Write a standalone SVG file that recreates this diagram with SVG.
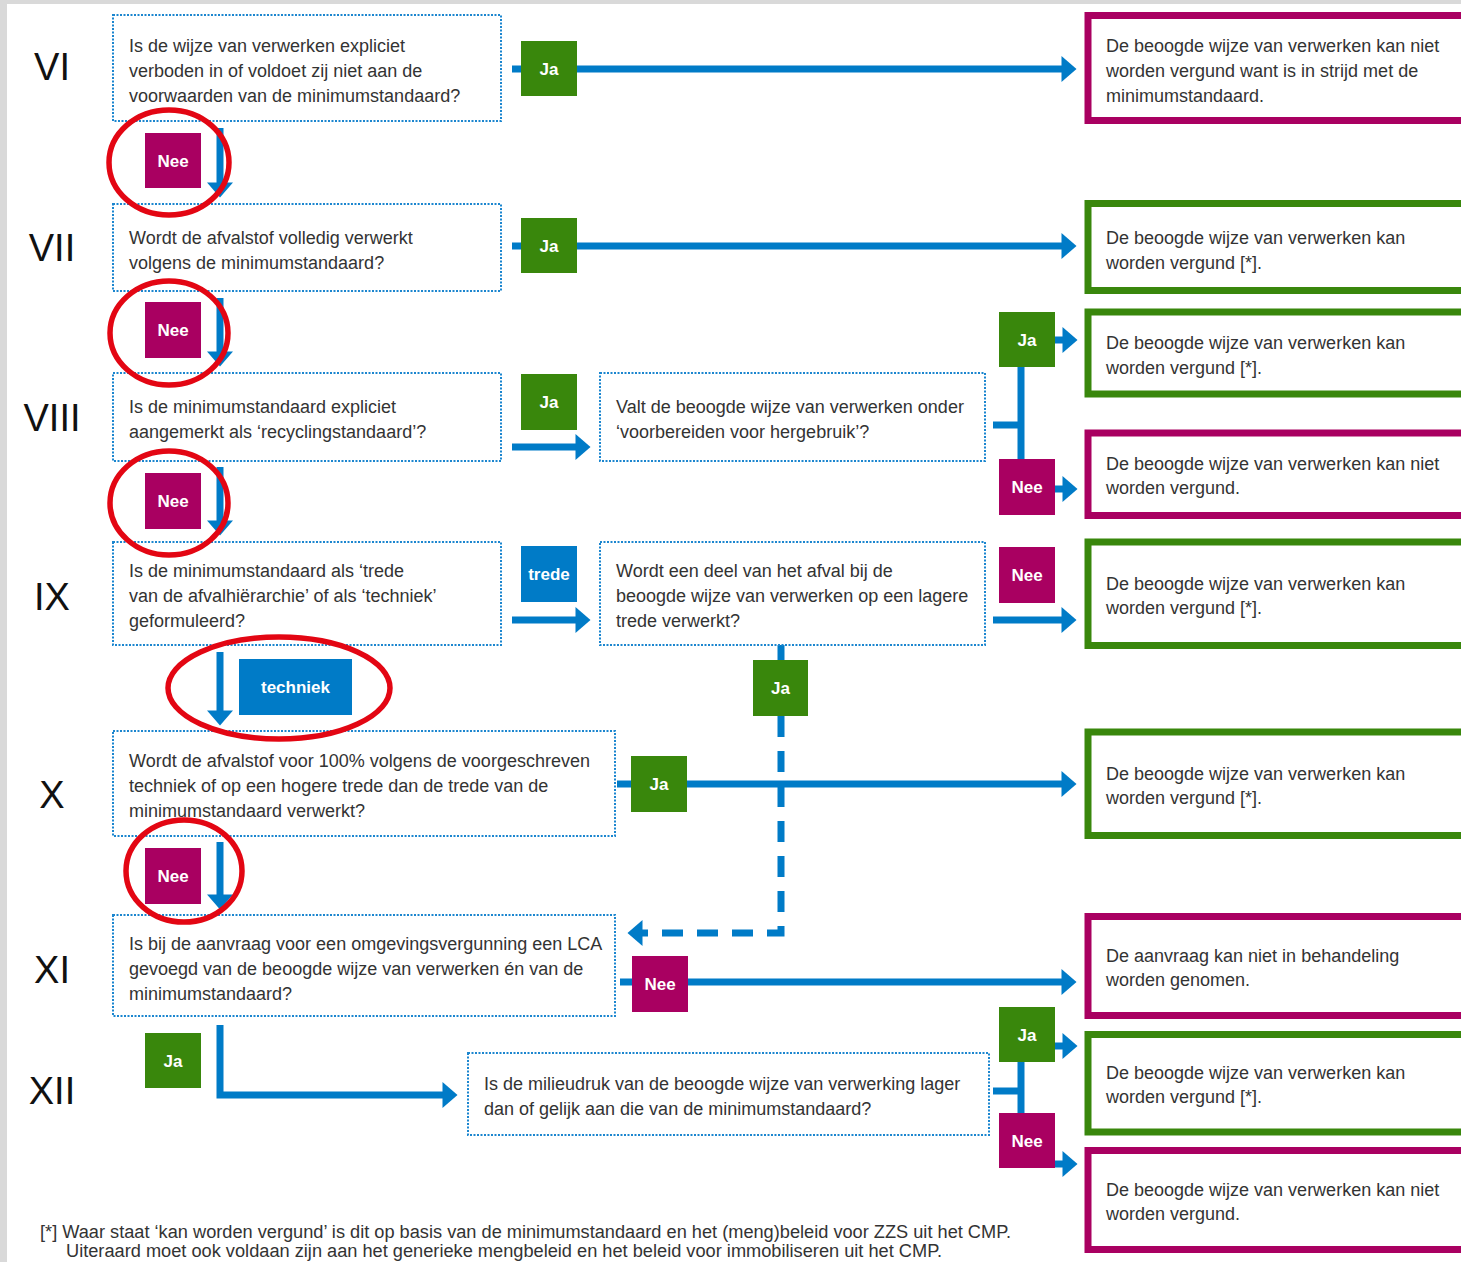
<svg xmlns="http://www.w3.org/2000/svg" width="1461" height="1262" viewBox="0 0 1461 1262">
<style>
.q{fill:#fff;stroke:#1b86cf;stroke-width:2;stroke-dasharray:2 1.5}
.t{font-family:"Liberation Sans",Arial,sans-serif;font-size:18px;fill:#333}
.num{font-family:"Liberation Sans",Arial,sans-serif;font-size:38px;fill:#111;text-anchor:middle}
.ok{fill:#fff;stroke:#39870c;stroke-width:7}
.no{fill:#fff;stroke:#a90061;stroke-width:7}
.ja{fill:#39870c}
.nee{fill:#a90061}
.blu{fill:#007bc7}
.lt{font-family:"Liberation Sans",Arial,sans-serif;font-weight:bold;font-size:17px;fill:#fff;text-anchor:middle}
.c{fill:none;stroke:#007bc7;stroke-width:7}
.d{stroke-dasharray:21 14}
.ring{fill:none;stroke:#e30613;stroke-width:5.5}
.ft{font-family:"Liberation Sans",Arial,sans-serif;font-size:18px;fill:#333}
</style>
<defs>
<marker id="ah" markerUnits="userSpaceOnUse" markerWidth="16" markerHeight="26" refX="0.5" refY="13" orient="auto" overflow="visible">
<path d="M0,0 L15,13 L0,26 z" fill="#007bc7"/>
</marker>
</defs>
<rect x="0" y="0" width="1461" height="1262" fill="#d9d9d9"/>
<rect x="7" y="4" width="1454" height="1258" fill="#fff"/>

<g id="numerals">
<text class="num" x="52" y="80">VI</text>
<text class="num" x="52" y="261">VII</text>
<text class="num" x="52" y="431">VIII</text>
<text class="num" x="52" y="610">IX</text>
<text class="num" x="52" y="808">X</text>
<text class="num" x="52" y="983">XI</text>
<text class="num" x="52" y="1104">XII</text>
</g>

<g id="connectors">
<path class="c" d="M512,69 H1062" marker-end="url(#ah)"/>
<path class="c" d="M512,246 H1062" marker-end="url(#ah)"/>
<path class="c" d="M512,447 H576" marker-end="url(#ah)"/>
<path class="c" d="M993,425 H1021"/>
<path class="c" d="M1021,340 V489"/>
<path class="c" d="M1055,340 H1063" marker-end="url(#ah)"/>
<path class="c" d="M1055,489 H1063" marker-end="url(#ah)"/>
<path class="c" d="M512,620 H576" marker-end="url(#ah)"/>
<path class="c" d="M993,620 H1062" marker-end="url(#ah)"/>
<path class="c" d="M781,645 V715"/>
<path class="c d" d="M781,716 V933 H642" marker-end="url(#ah)"/>
<path class="c" d="M617,784 H1062" marker-end="url(#ah)"/>
<path class="c" d="M620,982 H1062" marker-end="url(#ah)"/>
<path class="c" d="M220,1025 V1095 H443" marker-end="url(#ah)"/>
<path class="c" d="M993,1091 H1021"/>
<path class="c" d="M1021,1046 V1164"/>
<path class="c" d="M1055,1046 H1063" marker-end="url(#ah)"/>
<path class="c" d="M1055,1164 H1063" marker-end="url(#ah)"/>
<path class="c" d="M220,128 V183" marker-end="url(#ah)"/>
<path class="c" d="M220,298 V352" marker-end="url(#ah)"/>
<path class="c" d="M220,467 V521" marker-end="url(#ah)"/>
<path class="c" d="M220,652 V711" marker-end="url(#ah)"/>
<path class="c" d="M220,842 V895" marker-end="url(#ah)"/>
</g>

<g id="q6"><rect class="q" x="113" y="15" width="388" height="106"/>
<text class="t" x="129" y="52">Is de wijze van verwerken expliciet</text>
<text class="t" x="129" y="77">verboden in of voldoet zij niet aan de</text>
<text class="t" x="129" y="102">voorwaarden van de minimumstandaard?</text></g>
<g id="q7"><rect class="q" x="113" y="204" width="388" height="87"/>
<text class="t" x="129" y="244">Wordt de afvalstof volledig verwerkt</text>
<text class="t" x="129" y="269">volgens de minimumstandaard?</text></g>
<g id="q8"><rect class="q" x="113" y="373" width="388" height="88"/>
<text class="t" x="129" y="413">Is de minimumstandaard expliciet</text>
<text class="t" x="129" y="438">aangemerkt als ‘recyclingstandaard’?</text></g>
<g id="q8b"><rect class="q" x="600" y="373" width="385" height="88"/>
<text class="t" x="616" y="413">Valt de beoogde wijze van verwerken onder</text>
<text class="t" x="616" y="438">‘voorbereiden voor hergebruik’?</text></g>
<g id="q9"><rect class="q" x="113" y="542" width="388" height="103"/>
<text class="t" x="129" y="577">Is de minimumstandaard als ‘trede</text>
<text class="t" x="129" y="602">van de afvalhiërarchie’ of als ‘techniek’</text>
<text class="t" x="129" y="627">geformuleerd?</text></g>
<g id="q9b"><rect class="q" x="600" y="542" width="385" height="103"/>
<text class="t" x="616" y="577">Wordt een deel van het afval bij de</text>
<text class="t" x="616" y="602">beoogde wijze van verwerken op een lagere</text>
<text class="t" x="616" y="627">trede verwerkt?</text></g>
<g id="q10"><rect class="q" x="113" y="731" width="502" height="105"/>
<text class="t" x="129" y="767">Wordt de afvalstof voor 100% volgens de voorgeschreven</text>
<text class="t" x="129" y="792">techniek of op een hogere trede dan de trede van de</text>
<text class="t" x="129" y="817">minimumstandaard verwerkt?</text></g>
<g id="q11"><rect class="q" x="113" y="915" width="502" height="101"/>
<text class="t" x="129" y="950">Is bij de aanvraag voor een omgevingsvergunning een LCA</text>
<text class="t" x="129" y="975">gevoegd van de beoogde wijze van verwerken én van de</text>
<text class="t" x="129" y="1000">minimumstandaard?</text></g>
<g id="q12"><rect class="q" x="468" y="1053" width="521" height="82"/>
<text class="t" x="484" y="1090">Is de milieudruk van de beoogde wijze van verwerking lager</text>
<text class="t" x="484" y="1115">dan of gelijk aan die van de minimumstandaard?</text></g>

<g id="o1"><rect class="no" x="1088" y="15.5" width="500" height="105"/>
<text class="t" x="1106" y="52">De beoogde wijze van verwerken kan niet</text>
<text class="t" x="1106" y="77">worden vergund want is in strijd met de</text>
<text class="t" x="1106" y="102">minimumstandaard.</text></g>
<g id="o2"><rect class="ok" x="1088" y="203.5" width="500" height="87"/>
<text class="t" x="1106" y="244">De beoogde wijze van verwerken kan</text>
<text class="t" x="1106" y="269">worden vergund [*].</text></g>
<g id="o3"><rect class="ok" x="1088" y="312" width="500" height="82"/>
<text class="t" x="1106" y="349">De beoogde wijze van verwerken kan</text>
<text class="t" x="1106" y="374">worden vergund [*].</text></g>
<g id="o4"><rect class="no" x="1088" y="433" width="500" height="82.5"/>
<text class="t" x="1106" y="470">De beoogde wijze van verwerken kan niet</text>
<text class="t" x="1106" y="494">worden vergund.</text></g>
<g id="o5"><rect class="ok" x="1088" y="542" width="500" height="103.5"/>
<text class="t" x="1106" y="590">De beoogde wijze van verwerken kan</text>
<text class="t" x="1106" y="614">worden vergund [*].</text></g>
<g id="o6"><rect class="ok" x="1088" y="732" width="500" height="103.5"/>
<text class="t" x="1106" y="780">De beoogde wijze van verwerken kan</text>
<text class="t" x="1106" y="804">worden vergund [*].</text></g>
<g id="o7"><rect class="no" x="1088" y="916.5" width="500" height="99"/>
<text class="t" x="1106" y="962">De aanvraag kan niet in behandeling</text>
<text class="t" x="1106" y="986">worden genomen.</text></g>
<g id="o8"><rect class="ok" x="1088" y="1034.5" width="500" height="97.5"/>
<text class="t" x="1106" y="1079">De beoogde wijze van verwerken kan</text>
<text class="t" x="1106" y="1103">worden vergund [*].</text></g>
<g id="o9"><rect class="no" x="1088" y="1150.5" width="500" height="99"/>
<text class="t" x="1106" y="1196">De beoogde wijze van verwerken kan niet</text>
<text class="t" x="1106" y="1220">worden vergund.</text></g>

<g id="l6ja"><rect class="ja" x="521" y="41" width="56" height="55"/><text class="lt" x="549" y="75">Ja</text></g>
<g id="l6nee"><rect class="nee" x="145" y="133" width="56" height="55"/><text class="lt" x="173" y="167">Nee</text></g>
<g id="l7ja"><rect class="ja" x="521" y="218" width="56" height="55"/><text class="lt" x="549" y="252">Ja</text></g>
<g id="l7nee"><rect class="nee" x="145" y="302" width="56" height="56"/><text class="lt" x="173" y="336">Nee</text></g>
<g id="l8ja"><rect class="ja" x="521" y="374" width="56" height="56"/><text class="lt" x="549" y="408">Ja</text></g>
<g id="l8nee"><rect class="nee" x="145" y="473" width="56" height="56"/><text class="lt" x="173" y="507">Nee</text></g>
<g id="l8bja"><rect class="ja" x="999" y="312" width="56" height="55"/><text class="lt" x="1027" y="346">Ja</text></g>
<g id="l8bnee"><rect class="nee" x="999" y="459" width="56" height="56"/><text class="lt" x="1027" y="493">Nee</text></g>
<g id="l9trede"><rect class="blu" x="521" y="546" width="56" height="56"/><text class="lt" x="549" y="580">trede</text></g>
<g id="l9bnee"><rect class="nee" x="999" y="547" width="56" height="56"/><text class="lt" x="1027" y="581">Nee</text></g>
<g id="l9techniek"><rect class="blu" x="239" y="659" width="113" height="56"/><text class="lt" x="295.5" y="693">techniek</text></g>
<g id="l9bja"><rect class="ja" x="753" y="660" width="55" height="56"/><text class="lt" x="780.5" y="694">Ja</text></g>
<g id="l10ja"><rect class="ja" x="631" y="756" width="56" height="56"/><text class="lt" x="659" y="790">Ja</text></g>
<g id="l10nee"><rect class="nee" x="145" y="848" width="56" height="56"/><text class="lt" x="173" y="882">Nee</text></g>
<g id="l11nee"><rect class="nee" x="632" y="956" width="56" height="56"/><text class="lt" x="660" y="990">Nee</text></g>
<g id="l11ja"><rect class="ja" x="145" y="1033" width="56" height="55"/><text class="lt" x="173" y="1067">Ja</text></g>
<g id="l12ja"><rect class="ja" x="999" y="1007" width="56" height="55"/><text class="lt" x="1027" y="1041">Ja</text></g>
<g id="l12nee"><rect class="nee" x="999" y="1113" width="56" height="55"/><text class="lt" x="1027" y="1147">Nee</text></g>

<g id="highlights">
<ellipse class="ring" cx="169" cy="162.5" rx="60" ry="52.5"/>
<ellipse class="ring" cx="169" cy="333" rx="59" ry="52"/>
<ellipse class="ring" cx="169" cy="503" rx="59" ry="52"/>
<ellipse class="ring" cx="279" cy="688" rx="111" ry="51"/>
<ellipse class="ring" cx="184" cy="871" rx="58" ry="51"/>
</g>

<g id="footnote">
<text class="ft" x="40" y="1238" textLength="971" lengthAdjust="spacingAndGlyphs">[*] Waar staat ‘kan worden vergund’ is dit op basis van de minimumstandaard en het (meng)beleid voor ZZS uit het CMP.</text>
<text class="ft" x="66" y="1257" textLength="876" lengthAdjust="spacingAndGlyphs">Uiteraard moet ook voldaan zijn aan het generieke mengbeleid en het beleid voor immobiliseren uit het CMP.</text>
</g>
</svg>
